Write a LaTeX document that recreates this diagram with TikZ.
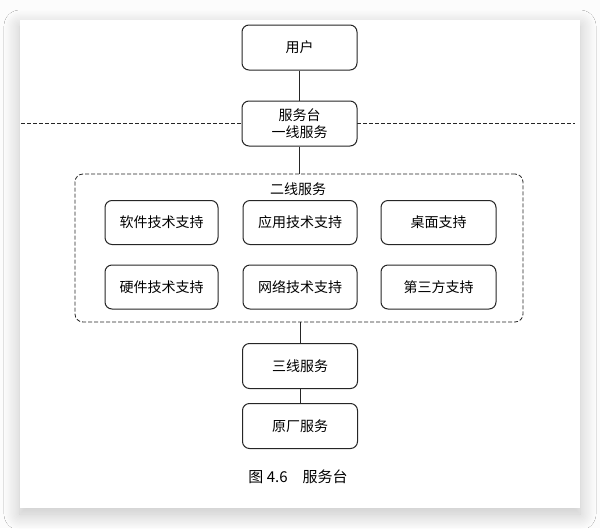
\documentclass[tikz,border=0pt]{standalone}
\usepackage{fontspec}
\newfontfamily\cjk{Noto Sans CJK SC}
\usetikzlibrary{shadows.blur}
\begin{document}
\begin{tikzpicture}[x=1pt,y=-1pt,
  box/.style={draw=black!85, line width=1pt, rounded corners=7pt, fill=white,
    minimum width=115pt, minimum height=45pt, inner sep=0pt, align=center,
    font=\cjk\fontsize{14}{17}\selectfont},
  sbox/.style={box, minimum width=114pt, minimum height=44pt},
  conn/.style={draw=black!85, line width=1pt},
  dashline/.style={draw=black!85, line width=0.8pt, dash pattern=on 4pt off 2pt}]
\useasboundingbox (0,0) rectangle (600,528);
\fill[white!99!black] (0,0) rectangle (600,528);
\fill[white, blur shadow={shadow blur steps=14, shadow xshift=0pt, shadow yshift=-6pt, shadow blur radius=16pt, shadow opacity=22}] (20,20) rectangle (580,508);
% dashed separator and group
\coordinate (dl) at (21,123);
\coordinate (dr) at (575,123);
\draw[dashline] (dl) -- (dr);
\node[dashline, rounded corners=8pt, minimum width=448pt, minimum height=148pt, inner sep=0pt] (grp) at (299,248) {};
\node[font=\cjk\fontsize{14}{17}\selectfont] (grpl) at (298,189) {二线服务};
% main boxes
\node[box] (user) at (299.5,47.5) {用户};
\node[box] (desk) at (299.5,123.5) {服务台\\一线服务};
\node[box] (l3) at (300,366) {三线服务};
\node[box] (oem) at (300,426) {原厂服务};
% inner boxes
\node[sbox, minimum width=113pt] (sw) at (161.5,222.5) {软件技术支持};
\node[sbox] (app) at (300,222.5) {应用技术支持};
\node[sbox, minimum width=115pt] (dt) at (438.5,222.5) {桌面支持};
\node[sbox, minimum width=113pt] (hw) at (161.5,287) {硬件技术支持};
\node[sbox] (net) at (300,287) {网络技术支持};
\node[sbox, minimum width=115pt] (tp) at (438.5,287) {第三方支持};
% connectors
\draw[conn] (user.south) -- (desk.north);
\draw[conn] (desk.south) -- (desk.south |- grp.north);
\draw[conn] (l3.north |- grp.south) -- (l3.north);
\draw[conn] (l3.south) -- (oem.north);
% caption
\node[font=\cjk\fontsize{15}{18}\selectfont] (cap) at (298,477) {图 4.6\quad 服务台};
\end{tikzpicture}
\end{document}
